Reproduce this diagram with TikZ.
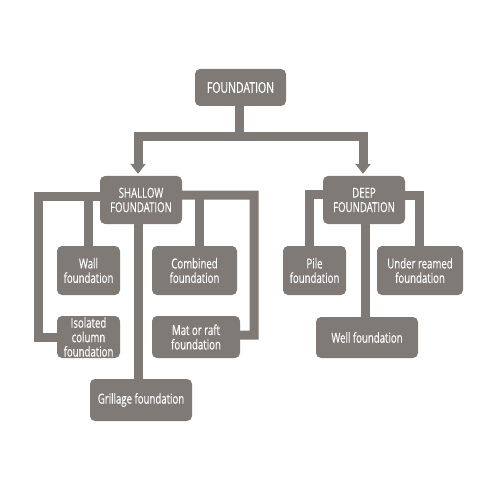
\documentclass[tikz,border=0pt]{standalone}
\usepackage{fontspec}
\setmainfont{Open Sans}[FakeStretch=0.7,FakeBold=0.3]
\usetikzlibrary{arrows.meta}
\definecolor{fgray}{HTML}{7F7A76}
\tikzset{
  box/.style={fill=fgray, draw=none, rounded corners=5bp, inner sep=0pt,
    text=white, align=center, font=\fontsize{13.8}{14.5}\selectfont},
  conn/.style={draw=fgray, line width=9bp},
  arr/.style={conn, -{Triangle[width=15bp,length=10bp]}}
}
\begin{document}
\begin{tikzpicture}[x=1bp,y=-1bp]
\useasboundingbox (0,0) rectangle (480,480);
\node[box, minimum width=91bp, minimum height=37bp, font=\fontsize{15}{16}\selectfont] (found) at (240.5,87.5) {FOUNDATION};
\node[box, minimum width=82bp, minimum height=48bp] (shallow) at (141,200) {SHALLOW\\FOUNDATION};
\node[box, minimum width=82bp, minimum height=48bp] (deep) at (364,200) {DEEP\\FOUNDATION};
\node[box, minimum width=63bp, minimum height=49bp] (wall) at (88.5,270.5) {Wall\\foundation};
\node[box, minimum width=63bp, minimum height=42bp] (isolated) at (88.5,337) {Isolated\\column\\foundation};
\node[box, minimum width=85bp, minimum height=49bp] (combined) at (194.5,270.5) {Combined\\foundation};
\node[box, minimum width=88bp, minimum height=42bp] (mat) at (196,337) {Mat or raft\\foundation};
\node[box, minimum width=102bp, minimum height=42bp] (grillage) at (141,400) {Grillage foundation};
\node[box, minimum width=63bp, minimum height=49bp] (pile) at (314.5,270.5) {Pile\\foundation};
\node[box, minimum width=86bp, minimum height=49bp] (under) at (420,270.5) {Under reamed\\foundation};
\node[box, minimum width=102bp, minimum height=41bp] (well) at (367,337.5) {Well foundation};
\coordinate (bar) at (239.5,137);
% top level
\draw[arr] ([xshift=-1bp]found.south) -- (bar) -| ([xshift=-3bp,yshift=2bp]shallow.north);
\draw[arr] (bar) -| ([xshift=-1bp,yshift=2bp]deep.north);
% shallow
\draw[conn] ([yshift=4bp]shallow.west) -| (38,337) -- (isolated.west);
\draw[conn] (wall.north) -- ([yshift=4bp]wall.north |- shallow.west);
\draw[conn] ([yshift=5bp]shallow.east) -| (254,335) -- ([yshift=2bp]mat.east);
\draw[conn] ([xshift=4.5bp]combined.north) -- ([xshift=4.5bp,yshift=5bp]combined.north |- shallow.east);
\draw[conn] ([xshift=-3bp]shallow.south) -- ([xshift=-3bp]grillage.north);
% deep
\draw[conn] ([yshift=5.5bp]deep.west) -| ([xshift=-5bp]pile.north);
\draw[conn] ([yshift=5bp]deep.east) -| ([xshift=-1bp]under.north);
\draw[conn] ([xshift=1.5bp]deep.south) -- ([xshift=1.5bp]deep.south |- well.north);
\end{tikzpicture}
\end{document}
